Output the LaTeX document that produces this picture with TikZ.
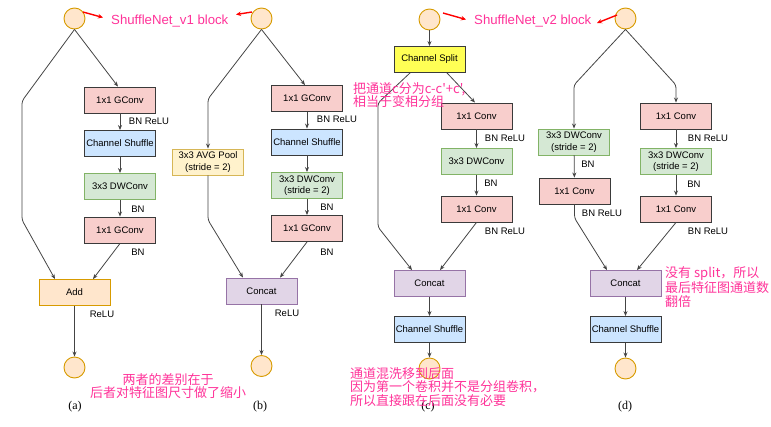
\documentclass[tikz,border=0pt]{standalone}
\usepackage{fontspec}
\setmainfont{Liberation Sans}
\newfontfamily\cjk{Noto Sans CJK SC}
\newfontfamily\serifcap{Liberation Serif}
\usetikzlibrary{arrows.meta}
\definecolor{pinkfill}{HTML}{F8CECC}
\definecolor{pinkdraw}{HTML}{3A3A3A}
\definecolor{bluefill}{HTML}{CCE5FF}
\definecolor{greenfill}{HTML}{D5E8D4}
\definecolor{greendraw}{HTML}{82B366}
\definecolor{orangefill}{HTML}{FFE6CC}
\definecolor{orangedraw}{HTML}{D79B00}
\definecolor{yellowfill}{HTML}{FFF2CC}
\definecolor{yellowdraw}{HTML}{D6B656}
\definecolor{purplefill}{HTML}{E1D5E7}
\definecolor{purpledraw}{HTML}{9673A6}
\definecolor{splitfill}{HTML}{FFFF55}
\definecolor{notepink}{HTML}{FF3399}
\definecolor{linegray}{HTML}{444444}
\tikzset{
  box/.style={draw, line width=0.9pt, minimum width=71pt, minimum height=26pt, inner sep=0pt, align=center, font=\fontsize{9.5}{11.5}\selectfont},
  convbox/.style={box, fill=pinkfill, draw=pinkdraw},
  shufbox/.style={box, fill=bluefill, draw=pinkdraw},
  dwbox/.style={box, fill=greenfill, draw=greendraw},
  addbox/.style={box, fill=orangefill, draw=orangedraw},
  poolbox/.style={box, fill=yellowfill, draw=yellowdraw},
  catbox/.style={box, fill=purplefill, draw=purpledraw},
  splitbox/.style={box, fill=splitfill, draw=pinkdraw},
  io/.style={circle, draw=orangedraw, fill=orangefill, line width=0.9pt, minimum size=21pt, inner sep=0pt},
  lbl/.style={font=\fontsize{9.5}{11}\selectfont, inner sep=0pt},
  captxt/.style={font=\serifcap\fontsize{12}{14}\selectfont, inner sep=0pt},
  note/.style={text=notepink, font=\cjk\fontsize{13}{13.6}\selectfont, inner sep=0pt, align=left},
  titletxt/.style={text=notepink, font=\fontsize{13.2}{15}\selectfont, inner sep=0pt},
  conn/.style={draw=linegray, line width=0.8pt, rounded corners=3pt, -{Stealth[length=5pt,width=4pt]}},
  redarr/.style={draw=red, line width=1.4pt, -{Stealth[length=5pt,width=4.5pt]}},
}
\begin{document}
\begin{tikzpicture}[x=1pt, y=-1pt]
\useasboundingbox (0,0) rectangle (771,426);
% ---------------- (a)
\node[io] (ain) at (74.5,18.5) {};
\node[convbox] (ag1) at (120,100) {1x1 GConv};
\node[shufbox] (ash) at (120,143.5) {Channel Shuffle};
\node[dwbox] (adw) at (120,186.5) {3x3 DWConv};
\node[convbox] (ag2) at (120,230) {1x1 GConv};
\node[addbox] (aadd) at (74.5,292.5) {Add};
\node[io] (aout) at (74.5,367.5) {};
\node[lbl] (al1) at (149,121) {BN ReLU};
\node[lbl] (al2) at (138,209) {BN};
\node[lbl] (al3) at (138,252) {BN};
\node[lbl] (al4) at (102,314) {ReLU};
\node[captxt] (acap) at (75,407) {(a)};
\coordinate (aw1) at (22,101);
\coordinate (aw2) at (22,220);
\draw[conn] (ain.south) -- (aw1) -- (aw2) -- (aadd.north -| 55,0);
\draw[conn] (ain.south) -- (ag1.north -| 118,0);
\draw[conn] (ag1) -- (ash);
\draw[conn] (ash) -- (adw);
\draw[conn] (adw) -- (ag2);
\draw[conn] (ag2.south) -- (aadd.north -| 93,0);
\draw[conn] (aadd) -- (aout);
% ---------------- (b)
\node[io] (bin) at (261.5,18.5) {};
\node[convbox] (bg1) at (307,98.5) {1x1 GConv};
\node[shufbox] (bsh) at (307,142) {Channel Shuffle};
\node[dwbox] (bdw) at (307,185.5) {3x3 DWConv\\(stride = 2)};
\node[convbox] (bg2) at (307,228.5) {1x1 GConv};
\node[poolbox] (bpool) at (208,162) {3x3 AVG Pool\\(stride = 2)};
\node[catbox] (bcat) at (261.5,291) {Concat};
\node[io] (bout) at (261.5,366) {};
\node[lbl] (bl1) at (337,119) {BN ReLU};
\node[lbl] (bl2) at (327,207) {BN};
\node[lbl] (bl3) at (327,252) {BN};
\node[lbl] (bl4) at (287,313) {ReLU};
\node[captxt] (bcap) at (260,407) {(b)};
\coordinate (bw1) at (208,99);
\coordinate (bw2) at (208,220);
\draw[conn] (bin.south) -- (bw1) -- (bpool.north);
\draw[conn] (bpool.south) -- (bw2) -- (bcat.north -| 243,0);
\draw[conn] (bin.south) -- (bg1.north -| 305,0);
\draw[conn] (bg1) -- (bsh);
\draw[conn] (bsh) -- (bdw);
\draw[conn] (bdw) -- (bg2);
\draw[conn] (bg2.south) -- (bcat.north -| 280,0);
\draw[conn] (bcat) -- (bout);
% ---------------- (c)
\node[io] (cin) at (429.5,19.5) {};
\node[splitbox] (csplit) at (429.5,59.5) {Channel Split};
\node[convbox] (cc1) at (476.5,116) {1x1 Conv};
\node[dwbox] (cdw) at (476.5,161.5) {3x3 DWConv};
\node[convbox] (cc2) at (476.5,209) {1x1 Conv};
\node[catbox] (ccat) at (429.5,283.5) {Concat};
\node[shufbox] (csh) at (429.5,329.5) {Channel Shuffle};
\node[io] (cout) at (429.5,368.5) {};
\node[lbl] (cl1) at (505,138) {BN ReLU};
\node[lbl] (cl2) at (491,183) {BN};
\node[lbl] (cl3) at (505,231) {BN ReLU};
\node[captxt] (ccap) at (428,407) {(c)};
\coordinate (cw1) at (378,103);
\coordinate (cw2) at (378,227);
\draw[conn] (cin) -- (csplit);
\draw[conn] (csplit.south -| 410,0) -- (cw1) -- (cw2) -- (ccat.north -| 412,0);
\draw[conn] (csplit.south -| 447,0) -- (cc1.north -| 475,0);
\draw[conn] (cc1) -- (cdw);
\draw[conn] (cdw) -- (cc2);
\draw[conn] (cc2.south) -- (ccat.north -| 440,0);
\draw[conn] (ccat) -- (csh);
\draw[conn] (csh) -- (cout);
% ---------------- (d)
\node[io] (din) at (625.5,18.5) {};
\node[dwbox] (ddwl) at (574,142) {3x3 DWConv\\(stride = 2)};
\node[convbox] (dcl) at (574.5,191) {1x1 Conv};
\node[convbox] (dc1) at (676,116) {1x1 Conv};
\node[dwbox] (ddw) at (676,161.5) {3x3 DWConv\\(stride = 2)};
\node[convbox] (dc2) at (676,209) {1x1 Conv};
\node[catbox] (dcat) at (625.5,283.5) {Concat};
\node[shufbox] (dsh) at (625.5,329.5) {Channel Shuffle};
\node[io] (dout) at (625.5,368.5) {};
\node[lbl] (dl1) at (588,164) {BN};
\node[lbl] (dl2) at (602,213) {BN ReLU};
\node[lbl] (dl3) at (708,138) {BN ReLU};
\node[lbl] (dl4) at (694,184) {BN};
\node[lbl] (dl5) at (708,231) {BN ReLU};
\node[captxt] (dcap) at (625,407) {(d)};
\coordinate (dw1) at (574,85);
\coordinate (dw2) at (676,85);
\coordinate (dw3) at (574.5,218);
\draw[conn] (din.south) -- (dw1) -- (ddwl.north);
\draw[conn] (din.south) -- (dw2) -- (dc1.north);
\draw[conn] (ddwl) -- (dcl);
\draw[conn] (dcl.south) -- (dw3) -- (dcat.north -| 607,0);
\draw[conn] (dc1) -- (ddw);
\draw[conn] (ddw) -- (dc2);
\draw[conn] (dc2.south) -- (dcat.north -| 637,0);
\draw[conn] (dcat) -- (dsh);
\draw[conn] (dsh) -- (dout);
% ---------------- titles and notes
\node[titletxt, anchor=west] (t1) at (111,21) {ShuffleNet\_v1 block};
\node[titletxt, anchor=west] (t2) at (474,21) {ShuffleNet\_v2 block};
\coordinate (r1s) at (83,12);   \coordinate (r1e) at (103,17.5);
\coordinate (r2s) at (252,12);  \coordinate (r2e) at (236,14.5);
\coordinate (r3s) at (443,13);  \coordinate (r3e) at (466,19.5);
\coordinate (r4s) at (617,15);  \coordinate (r4e) at (597,23);
\draw[redarr] (r1s) -- (r1e);
\draw[redarr] (r2s) -- (r2e);
\draw[redarr] (r3s) -- (r3e);
\draw[redarr] (r4s) -- (r4e);
\node[note, align=center] (n1) at (168,386) {两者的差别在于\\后者对特征图尺寸做了缩小};
\node[note, anchor=north west] (n2) at (353,82) {把通道c分为c-c'+c',\\相当于变相分组};
\node[note, anchor=north west] (n3) at (350,367) {通道混洗移到后面\\因为第一个卷积并不是分组卷积，\\所以直接跟在后面没有必要};
\node[note, anchor=north west] (n4) at (665,266.5) {没有 split，所以\\最后特征图通道数\\翻倍};
\end{tikzpicture}
\end{document}
